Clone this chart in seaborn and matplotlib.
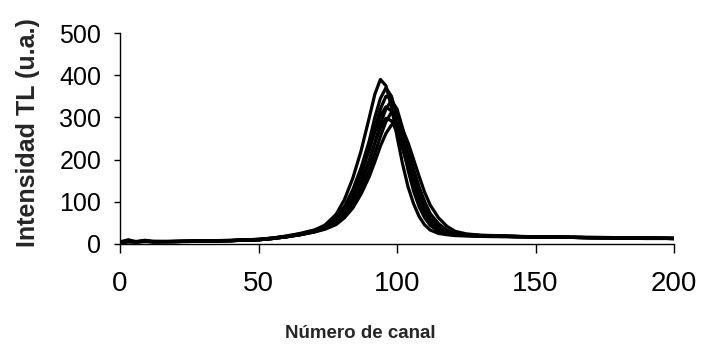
import pandas as pd
import matplotlib
matplotlib.use("Agg")
import matplotlib.pyplot as plt
import seaborn as sns

# channels sampled along each glow curve
canal = [0, 3, 6, 9, 12, 20, 30, 40, 50, 55, 60, 65, 70, 74, 78, 81, 84, 87,
         90, 92, 94, 96, 98, 100, 102, 104, 106, 108, 110, 112, 115, 118, 121,
         125, 130, 140, 150, 160, 170, 180, 190, 200]

# TL intensity (a.u.), one list per curve
curva_1 = [5, 10, 5, 9, 5, 6, 7, 8, 11, 14, 18, 24, 32, 45, 70, 105, 155, 220,
           300, 355, 390, 375, 325, 255, 190, 135, 95, 65, 45, 33, 25, 22, 20,
           19, 18, 17, 16, 16, 15, 14, 13, 13]
curva_2 = [5, 6, 5, 7, 6, 6, 7, 8, 10, 13, 17, 23, 30, 40, 60, 88, 128, 180,
           245, 300, 345, 370, 350, 300, 235, 175, 125, 88, 62, 44, 30, 24, 21,
           20, 19, 18, 17, 16, 15, 15, 14, 13]
curva_3 = [4, 5, 6, 6, 5, 6, 7, 8, 10, 13, 17, 22, 30, 38, 55, 80, 115, 165,
           225, 275, 320, 350, 345, 310, 255, 195, 145, 105, 75, 52, 35, 27, 22,
           21, 19, 18, 17, 16, 15, 15, 14, 14]
curva_4 = [5, 7, 5, 8, 6, 5, 7, 8, 11, 14, 18, 23, 30, 38, 52, 72, 100, 140,
           195, 240, 285, 320, 340, 320, 275, 215, 165, 120, 85, 60, 40, 29, 24,
           21, 20, 18, 17, 16, 15, 14, 14, 13]
curva_5 = [5, 6, 5, 6, 6, 6, 7, 9, 11, 14, 19, 25, 33, 43, 62, 88, 122, 170,
           225, 265, 305, 325, 315, 285, 240, 195, 150, 112, 82, 60, 42, 31, 25,
           22, 20, 18, 17, 16, 16, 15, 14, 13]
curva_6 = [4, 6, 5, 7, 5, 6, 7, 8, 10, 13, 17, 22, 29, 36, 48, 66, 92, 128,
           175, 215, 255, 290, 312, 305, 270, 225, 178, 135, 100, 72, 48, 33, 25,
           22, 20, 18, 17, 16, 15, 14, 14, 13]
curva_7 = [5, 6, 6, 7, 5, 6, 7, 8, 10, 13, 17, 22, 29, 37, 52, 74, 105, 148,
           200, 240, 275, 298, 292, 265, 225, 182, 140, 105, 78, 56, 38, 28, 23,
           21, 19, 18, 17, 16, 15, 15, 14, 13]
curva_8 = [5, 6, 5, 6, 6, 6, 7, 8, 10, 13, 17, 22, 28, 35, 46, 62, 85, 118,
           160, 195, 232, 262, 282, 288, 272, 240, 200, 160, 122, 92, 62, 42, 30,
           24, 21, 19, 17, 16, 15, 15, 14, 13]

curvas = [curva_1, curva_2, curva_3, curva_4, curva_5, curva_6, curva_7, curva_8]

x_ticks = [0, 50, 100, 150, 200]
y_ticks = [0, 100, 200, 300, 400, 500]


def build_frame() -> pd.DataFrame:
    frames = []
    for i, vals in enumerate(curvas):
        frames.append(pd.DataFrame({"canal": canal, "intensidad": vals, "curva": i}))
    return pd.concat(frames, ignore_index=True)


def main():
    sns.set_style("ticks")
    plt.rcParams["font.family"] = ["Liberation Sans", "DejaVu Sans"]

    df = build_frame()

    fig = plt.figure(figsize=(7.01, 3.46), dpi=100)
    ax = fig.add_axes([0.1712, 0.2948, 0.7903, 0.6098])

    sns.lineplot(data=df, x="canal", y="intensidad", units="curva",
                 estimator=None, color="black", lw=2.3, ax=ax, legend=False)

    ax.set_xlim(0, 200)
    ax.set_ylim(0, 500)
    ax.set_xticks(x_ticks)
    ax.set_yticks(y_ticks)
    sns.despine(ax=ax)
    for s in ("left", "bottom"):
        ax.spines[s].set_linewidth(1.0)
        ax.spines[s].set_color("black")

    ax.tick_params(axis="x", length=6.5, width=1.0, pad=13, labelsize=20, colors="black")
    ax.tick_params(axis="y", length=4.5, width=1.0, pad=9, labelsize=18, colors="black")

    ax.set_xlabel("")
    ax.set_ylabel("Intensidad TL (u.a.)", fontsize=18, fontweight="bold")
    ax.yaxis.set_label_coords(-0.144, 0.526)
    ax.text(0.433, -0.445, "Número de canal", transform=ax.transAxes,
            ha="center", va="baseline", fontsize=13.5, fontweight="bold")

    fig.savefig("out.png", dpi=100, facecolor="white")
    plt.close(fig)


if __name__ == "__main__":
    main()
